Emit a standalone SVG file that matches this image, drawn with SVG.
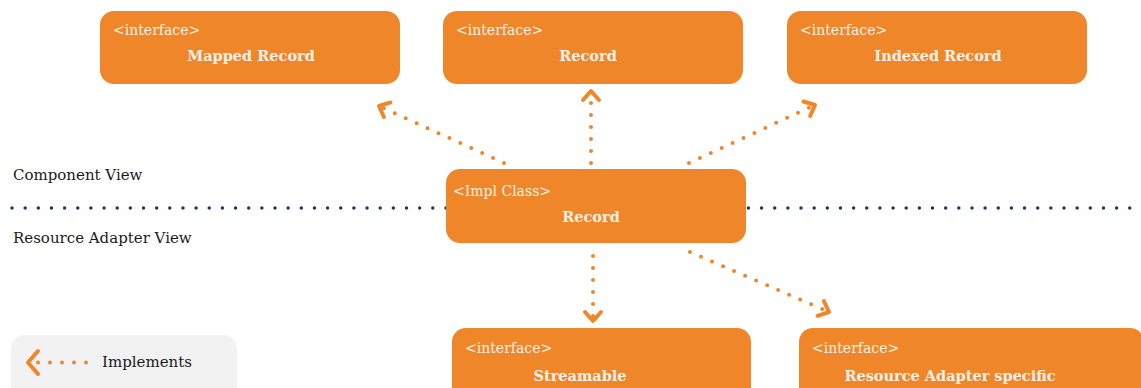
<svg xmlns="http://www.w3.org/2000/svg" width="1141" height="388" viewBox="0 0 1141 388">
<style>
.box{fill:#f0862a;}
.st{font-family:"DejaVu Serif","Liberation Serif",serif;font-size:14px;fill:#fdf1e6;}
.tt{font-family:"DejaVu Serif","Liberation Serif",serif;font-size:14.5px;font-weight:bold;fill:#fdf1e6;text-anchor:middle;}
.lbl{font-family:"DejaVu Serif","Liberation Serif",serif;font-size:15px;fill:#1a1a1a;}
.con{fill:none;stroke:#f0862a;stroke-width:4;stroke-linecap:round;stroke-dasharray:0 12;}
.sep{fill:none;stroke:#1f3864;stroke-width:3.5;stroke-linecap:round;stroke-dasharray:0 13.15;}
</style>
<defs>
<marker id="arr" markerUnits="userSpaceOnUse" markerWidth="30" markerHeight="30" viewBox="-15 -15 30 30" refX="0" refY="0" orient="auto" overflow="visible">
<path d="M-9,-8 L0,0 L-9,8" fill="none" stroke="#f0862a" stroke-width="4" stroke-linecap="round" stroke-linejoin="round"/>
</marker>
</defs>
<g id="separator">
<line class="sep" x1="12" y1="208" x2="1132" y2="208"/>
</g>
<text class="lbl" x="13" y="180">Component View</text>
<text class="lbl" x="13" y="243">Resource Adapter View</text>
<g id="connectors">
<path class="con" d="M504,163 L379,106" marker-end="url(#arr)"/>
<path class="con" d="M591,163 L591,91" marker-end="url(#arr)"/>
<path class="con" d="M689,163 L815,105" marker-end="url(#arr)"/>
<path class="con" d="M593,256 L593,321" marker-end="url(#arr)"/>
<path class="con" d="M690,252 L829,312" marker-end="url(#arr)"/>
</g>
<g id="mapped-record">
<rect class="box" x="100" y="11" width="300" height="73" rx="14"/>
<text class="st" x="113" y="35">&lt;interface&gt;</text>
<text class="tt" x="251" y="61">Mapped Record</text>
</g>
<g id="record-interface">
<rect class="box" x="443" y="11" width="300" height="73" rx="14"/>
<text class="st" x="456" y="35">&lt;interface&gt;</text>
<text class="tt" x="588" y="61">Record</text>
</g>
<g id="indexed-record">
<rect class="box" x="787" y="11" width="300" height="73" rx="14"/>
<text class="st" x="800" y="35">&lt;interface&gt;</text>
<text class="tt" x="938" y="61">Indexed Record</text>
</g>
<g id="record-impl">
<rect class="box" x="446" y="169" width="300" height="74" rx="14"/>
<text class="st" x="453" y="196">&lt;Impl Class&gt;</text>
<text class="tt" x="591" y="222">Record</text>
</g>
<g id="streamable">
<rect class="box" x="452" y="328" width="299" height="74" rx="14"/>
<text class="st" x="465" y="353">&lt;interface&gt;</text>
<text class="tt" x="580" y="381">Streamable</text>
</g>
<g id="resource-adapter-specific">
<rect class="box" x="799" y="328" width="345" height="74" rx="14"/>
<text class="st" x="812" y="353">&lt;interface&gt;</text>
<text class="tt" x="950" y="381">Resource Adapter specific</text>
</g>
<g id="legend">
<rect x="11" y="335" width="226" height="70" rx="14" fill="#f2f2f2"/>
<path d="M38,351 L28,362.5 L38,374" fill="none" stroke="#f0862a" stroke-width="4" stroke-linecap="round" stroke-linejoin="round"/>
<line x1="38" y1="362.5" x2="91" y2="362.5" class="con" stroke-dasharray="0 13"/>
<text class="lbl" x="102" y="367">Implements</text>
</g>
</svg>
